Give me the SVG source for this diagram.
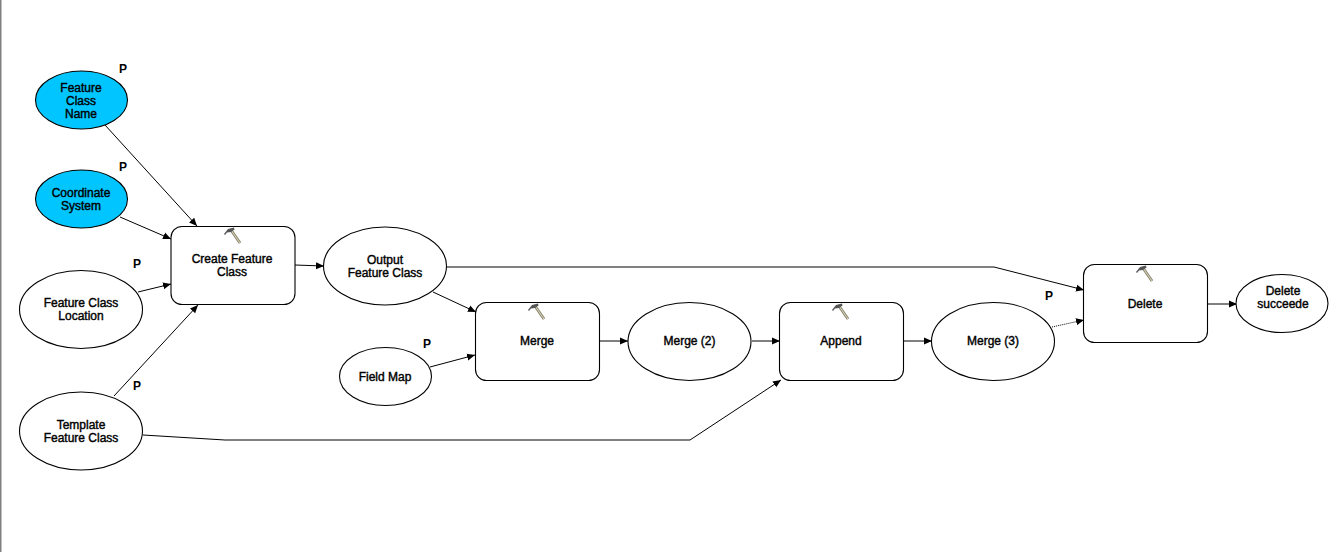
<svg xmlns="http://www.w3.org/2000/svg" width="1342" height="552" viewBox="0 0 1342 552">
<style>
.n{fill:#fff;stroke:#000;stroke-width:1.1}
.b{fill:#00c5ff}
text{font-family:"Liberation Sans",Arial,sans-serif;font-size:12px;fill:#000;text-anchor:middle;stroke:#000;stroke-width:.4}
.p{font-size:12px;font-weight:bold;stroke:none}
.c{fill:none;stroke:#000;stroke-width:1;marker-end:url(#a)}
</style>
<defs>
<marker id="a" markerUnits="userSpaceOnUse" markerWidth="9" markerHeight="8" refX="8" refY="4" orient="auto"><path d="M0 .5L8 4L0 7.500z" fill="#000"/></marker>
<g id="h">
<path d="M-2 -6L7 7" stroke="#7d7860" stroke-width="2.800" fill="none"/>
<path d="M-2 -6L7 7" stroke="#d8d2b8" stroke-width="1.200" fill="none"/>
<path d="M-9 -2L-5 -7L1 -8.500L1.500 -6.500L-2 -4L-6 -3.500L-8 -1z" fill="#555"/>
</g>
</defs>
<rect x="0" y="0" width="1342" height="552" fill="#fff"/>
<rect x="0" y="0" width="1.500" height="552" fill="#808080"/>
<g id="connectors">
<path class="c" d="M105 125L197 226"/>
<path class="c" d="M120 217L171 239"/>
<path class="c" d="M138 292L171 284"/>
<path class="c" d="M114 396L198 305"/>
<path class="c" d="M295 265L324 266"/>
<path class="c" d="M446 267L994 267L1084 290"/>
<path class="c" d="M433 292L476 312"/>
<path class="c" d="M430 367L475 355"/>
<path class="c" d="M143 435L225 440L690 440L781 380"/>
<path class="c" d="M600 341L628 341"/>
<path class="c" d="M752 341L780 341"/>
<path class="c" d="M904 341L932 341"/>
<path class="c" d="M1052 327L1084 320" stroke-dasharray="1 1"/>
<path class="c" d="M1208 304L1237 304"/>
</g>
<g id="feature-class-name"><ellipse class="n b" cx="81.500" cy="100" rx="46" ry="29"/><text x="81" y="92">Feature</text><text x="81" y="105">Class</text><text x="81" y="118">Name</text><text class="p" x="123" y="73">P</text></g>
<g id="coordinate-system"><ellipse class="n b" cx="81.500" cy="199" rx="46" ry="29"/><text x="81" y="197">Coordinate</text><text x="81" y="210">System</text><text class="p" x="123" y="171">P</text></g>
<g id="feature-class-location"><ellipse class="n" cx="81" cy="309.500" rx="61.500" ry="39"/><text x="81" y="307">Feature Class</text><text x="81" y="320">Location</text><text class="p" x="137" y="268">P</text></g>
<g id="template-feature-class"><ellipse class="n" cx="81" cy="431" rx="61.500" ry="39"/><text x="81" y="429">Template</text><text x="81" y="442">Feature Class</text><text class="p" x="137" y="390">P</text></g>
<g id="create-feature-class"><rect class="n" x="171" y="226.500" width="124" height="78" rx="11"/><use href="#h" x="233" y="236"/><text x="232" y="263">Create Feature</text><text x="232" y="276">Class</text></g>
<g id="output-feature-class"><ellipse class="n" cx="385" cy="266" rx="61.500" ry="39"/><text x="385" y="264">Output</text><text x="385" y="277">Feature Class</text></g>
<g id="field-map"><ellipse class="n" cx="385.500" cy="376.500" rx="46" ry="29"/><text x="385" y="381">Field Map</text><text class="p" x="427" y="348">P</text></g>
<g id="merge"><rect class="n" x="475.500" y="302.500" width="124" height="78" rx="11"/><use href="#h" x="537" y="312"/><text x="537" y="345">Merge</text></g>
<g id="merge-2"><ellipse class="n" cx="689.500" cy="341.500" rx="61.500" ry="39"/><text x="689.500" y="345">Merge (2)</text></g>
<g id="append"><rect class="n" x="779.500" y="302.500" width="124" height="78" rx="11"/><use href="#h" x="841" y="312"/><text x="841" y="345">Append</text></g>
<g id="merge-3"><ellipse class="n" cx="993" cy="341.500" rx="61.500" ry="39"/><text x="993" y="345">Merge (3)</text><text class="p" x="1049" y="300">P</text></g>
<g id="delete"><rect class="n" x="1083.500" y="264.500" width="124" height="78" rx="11"/><use href="#h" x="1145" y="274"/><text x="1145" y="308">Delete</text></g>
<g id="delete-succeede"><ellipse class="n" cx="1282" cy="303.500" rx="46" ry="29"/><text x="1283" y="295">Delete</text><text x="1283" y="308">succeede</text></g>
</svg>
